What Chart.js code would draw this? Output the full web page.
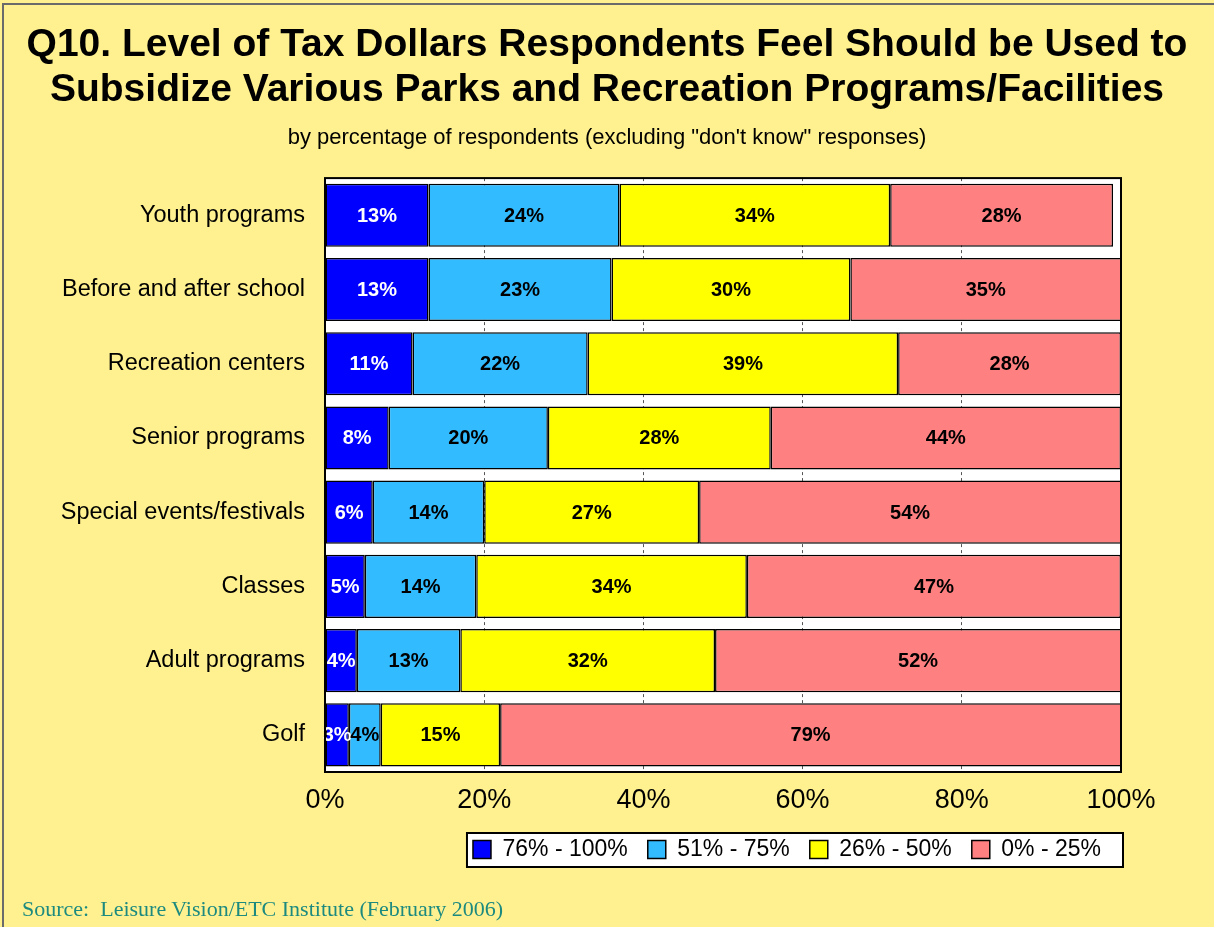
<!DOCTYPE html>
<html>
<head>
<meta charset="utf-8">
<title>Q10 Tax Dollars</title>
<script src="https://cdn.jsdelivr.net/npm/chart.js@4.4.0/dist/chart.umd.min.js"></script>
<style>
  html, body { margin: 0; padding: 0; background: #fff; }
  #wrap { position: relative; width: 1214px; height: 927px; background: #FFF18F; }
  #frame { position: absolute; left: 2px; top: 3px; right: 0; bottom: 0;
           border-top: 2px solid #6b6b6b; border-left: 2px solid #6b6b6b; pointer-events: none; }
  #source { position: absolute; left: 22px; top: 896px; font: 22px "Liberation Serif", "Times New Roman", serif;
            color: #1d8a80; white-space: nowrap; }
  canvas { position: absolute; left: 0; top: 0; }
</style>
</head>
<body>
<div id="wrap">
  <canvas id="chart" width="1214" height="927"></canvas>
  <div id="frame"></div>
  <div id="source">Source:&nbsp; Leisure Vision/ETC Institute (February 2006)</div>
</div>
<script>
// categories (top to bottom) and the four response bands
const categories = [
  "Youth programs",
  "Before and after school",
  "Recreation centers",
  "Senior programs",
  "Special events/festivals",
  "Classes",
  "Adult programs",
  "Golf"
];
const bandNames = ["76% - 100%", "51% - 75%", "26% - 50%", "0% - 25%"];
const band76to100 = [13, 13, 11, 8, 6, 5, 4, 3];
const band51to75 = [24, 23, 22, 20, 14, 14, 13, 4];
const band26to50 = [34, 30, 39, 28, 27, 34, 32, 15];
const band0to25 = [28, 35, 28, 44, 54, 47, 52, 79];
const xTicks = [0, 20, 40, 60, 80, 100];

const bandColors = ["#0000FF", "#33BBFF", "#FFFF00", "#FF8080"];
const labelColors = ["#FFFFFF", "#000000", "#000000", "#000000"];
const FONT = 'Arial, "Liberation Sans", sans-serif';

// white plot area + black frame, white box behind the legend
const plotBox = {
  id: "plotBox",
  beforeDraw(chart) {
    const { ctx, chartArea: a } = chart;
    ctx.save();
    ctx.fillStyle = "#FFFFFF";
    ctx.fillRect(a.left, a.top, a.right - a.left, a.bottom - a.top);
    const boxes = chart.legend && chart.legend.legendHitBoxes;
    if (boxes && boxes.length) {
      const l = Math.min(...boxes.map(b => b.left)) - 6;
      const r = Math.max(...boxes.map(b => b.left + b.width)) + 22;
      const t = Math.min(...boxes.map(b => b.top)) - 5;
      const b = Math.max(...boxes.map(b => b.top + b.height)) + 6;
      ctx.fillRect(l, t, r - l, b - t);
      ctx.strokeStyle = "#000";
      ctx.lineWidth = 2;
      ctx.strokeRect(l, t, r - l, b - t);
    }
    ctx.restore();
  },
  afterDraw(chart) {
    const { ctx, chartArea: a } = chart;
    ctx.save();
    ctx.strokeStyle = "#000";
    ctx.lineWidth = 2;
    ctx.strokeRect(a.left, a.top, a.right - a.left, a.bottom - a.top);
    ctx.restore();
  }
};

// percentage printed in the middle of each segment
const segmentLabels = {
  id: "segmentLabels",
  afterDatasetsDraw(chart) {
    const { ctx } = chart;
    ctx.save();
    ctx.font = "bold 20px " + FONT;
    ctx.textAlign = "center";
    ctx.textBaseline = "middle";
    chart.data.datasets.forEach((ds, i) => {
      const meta = chart.getDatasetMeta(i);
      meta.data.forEach((bar, j) => {
        const { x, base, y } = bar.getProps(["x", "base", "y"], true);
        const right = Math.min(x, chart.chartArea.right);
        ctx.fillStyle = labelColors[i];
        ctx.fillText(ds.data[j] + "%", (base + right) / 2, y + 1);
      });
    });
    ctx.restore();
  }
};

const bandData = [band76to100, band51to75, band26to50, band0to25];

new Chart(document.getElementById("chart"), {
  type: "bar",
  data: {
    labels: categories,
    datasets: bandNames.map((name, i) => ({
      label: name,
      data: bandData[i],
      backgroundColor: bandColors[i],
      borderColor: "#000000",
      borderWidth: 1.5,
      borderSkipped: false,
      barPercentage: 1,
      categoryPercentage: 0.85
    }))
  },
  options: {
    indexAxis: "y",
    responsive: false,
    animation: false,
    layout: { padding: { left: 0, right: 0, top: 0, bottom: 56 } },
    scales: {
      x: {
        stacked: true,
        min: 0,
        max: 100,
        afterBuildTicks(scale) {
          scale.ticks = xTicks.map(v => ({ value: v }));
        },
        afterFit(scale) { scale.height = 46; },
        ticks: {
          color: "#000",
          font: { family: FONT, size: 27 },
          padding: 12,
          callback: v => v + "%"
        },
        grid: { color: "#555", lineWidth: 1, drawTicks: false, drawOnChartArea: true },
        border: { display: false, dash: [3, 3] }
      },
      y: {
        stacked: true,
        afterFit(scale) { scale.width = 325; },
        ticks: {
          color: "#000",
          font: { family: FONT, size: 23.5 },
          padding: 20
        },
        grid: { display: false, drawTicks: false },
        border: { display: false }
      },
      // empty strip on the right so the plot stops short of the edge
      yRight: {
        type: "category",
        position: "right",
        afterFit(scale) { scale.width = 93; },
        ticks: { display: false },
        grid: { display: false, drawTicks: false },
        border: { display: false }
      }
    },
    plugins: {
      tooltip: { enabled: false },
      title: {
        display: true,
        text: [
          "Q10. Level of Tax Dollars Respondents Feel Should be Used to",
          "Subsidize Various Parks and Recreation Programs/Facilities"
        ],
        color: "#000",
        font: { family: FONT, size: 39, weight: "bold", lineHeight: 1.15 },
        padding: { top: 23, bottom: 12 }
      },
      subtitle: {
        display: true,
        text: 'by percentage of respondents (excluding "don\'t know" responses)',
        color: "#000",
        font: { family: FONT, size: 22 },
        padding: { top: 0, bottom: 27 }
      },
      legend: {
        position: "bottom",
        align: "end",
        fullSize: false,
        labels: {
          color: "#000",
          font: { family: FONT, size: 23 },
          boxWidth: 18,
          boxHeight: 18,
          padding: 20
        }
      }
    }
  },
  plugins: [plotBox, segmentLabels]
});
</script>
</body>
</html>
